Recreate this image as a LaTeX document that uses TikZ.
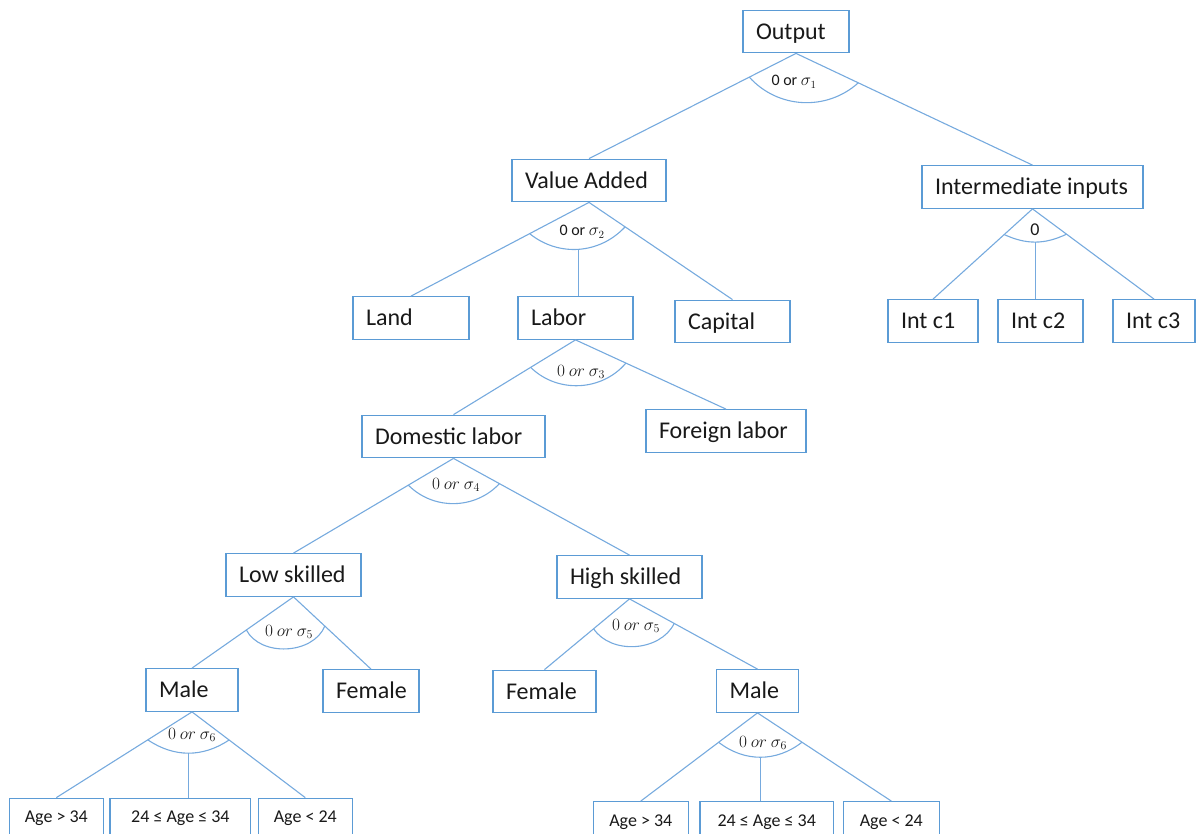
\documentclass[tikz,border=0pt]{standalone}
\usepackage{fontspec}
\setmainfont{Carlito}
\usetikzlibrary{calc}
\definecolor{boxblue}{RGB}{91,155,213}
\definecolor{lineblue}{RGB}{118,170,222}
\definecolor{txt}{RGB}{25,25,25}
\newcommand\myl[2]{\makebox[#1pt][l]{#2}}
\begin{document}
\begin{tikzpicture}[x=1pt,y=-1pt,
  box/.style={draw=boxblue, line width=1.3pt, fill=white, inner xsep=13pt, inner ysep=0pt,
    minimum height=42.5pt, text height=15.5pt, text depth=0pt,
    font=\fontsize{24pt}{28pt}\selectfont, text=txt},
  agebox/.style={draw=boxblue, line width=1.3pt, fill=white, inner xsep=0pt, inner ysep=0pt,
    minimum height=43pt, text height=11.6pt, text depth=5.8pt,
    font=\fontsize{18pt}{22pt}\selectfont, text=txt},
  conn/.style={draw=lineblue, line width=1.1pt},
  lbl/.style={font=\fontsize{16pt}{19pt}\selectfont, text=txt, inner sep=0pt},
  mlbl/.style={font=\fontsize{17pt}{20pt}\selectfont, text=txt, inner sep=0pt}]
\useasboundingbox (0,0) rectangle (1196,834);
\clip (0,0) rectangle (1196,834);

% ---- boxes
\node[box] (out) at (796,31.5) {\myl{80}{Output}};
\node[box] (va) at (589,180.5) {\myl{128}{Value Added}};
\node[box] (ii) at (1032.5,187) {\myl{195}{Intermediate inputs}};
\node[box] (c1) at (933,321) {\myl{64}{Int c1}};
\node[box] (c2) at (1040.5,321) {\myl{59}{Int c2}};
\node[box] (c3) at (1154,321) {\myl{56}{Int c3}};
\node[box] (land) at (411,318) {\myl{90}{Land}};
\node[box] (lab) at (575.5,318) {\myl{89}{Labor}};
\node[box] (cap) at (732.5,321.5) {\myl{89}{Capital}};
\node[box] (dom) at (453.5,436.5) {\myl{157}{Domestic labor}};
\node[box] (forl) at (726,431) {\myl{134}{Foreign labor}};
\node[box] (low) at (293.5,575) {\myl{109}{Low skilled}};
\node[box] (high) at (629.5,577) {\myl{119}{High skilled}};
\node[box] (m1) at (192,690) {\myl{66}{Male}};
\node[box] (f1) at (371,691) {\myl{70}{Female}};
\node[box] (f2) at (544.5,691.5) {\myl{77}{Female}};
\node[box] (m2) at (757.5,691) {\myl{56}{Male}};

\node[agebox, minimum width=94pt] (a1) at (56.3,819.8) {Age > 34};
\node[agebox, minimum width=140.7pt] (a2) at (180.4,819.8) {24 ≤ Age ≤ 34};
\node[agebox, minimum width=94pt] (a3) at (305.3,819.8) {Age < 24};
\node[agebox, minimum width=95pt] (a4) at (640.8,823.2) {Age > 34};
\node[agebox, minimum width=133.3pt] (a5) at (766.7,823.2) {24 ≤ Age ≤ 34};
\node[agebox, minimum width=96pt] (a6) at (891.3,823.2) {Age < 24};

% ---- connectors
\draw[conn] (out.south) -- (va.north);
\draw[conn] (out.south) -- (ii.north);
\draw[conn] ($(out.south)!52.4pt!(va.north)$) to[bend right=45] ($(out.south)!68.9pt!(ii.north)$);

\draw[conn] (va.south) -- (land.north);
\draw[conn] (va.south) -- (cap.north);
\draw[conn] ($(va.south)!67.1pt!(land.north)$) to[bend right=43] coordinate[pos=0.5] (vab) ($(va.south)!43.6pt!(cap.north)$);
\draw[conn] (vab) -- (vab |- lab.north);

\draw[conn] (ii.south) -- (c1.north);
\draw[conn] (ii.south) -- (c3.north);
\draw[conn] ($(ii.south)!38.2pt!(c1.north)$) to[bend right=25] coordinate[pos=0.5] (iib) ($(ii.south)!42.4pt!(c3.north)$);
\draw[conn] (iib) -- (iib |- c2.north);

\draw[conn] (lab.south) -- (dom.north);
\draw[conn] (lab.south) -- (forl.north);
\draw[conn] ($(lab.south)!52.6pt!(dom.north)$) to[bend right=47] ($(lab.south)!55.5pt!(forl.north)$);

\draw[conn] (dom.south) -- (low.north);
\draw[conn] (dom.south) -- (high.north);
\draw[conn] ($(dom.south)!52.5pt!(low.north)$) to[bend right=46] ($(dom.south)!52.4pt!(high.north)$);

\draw[conn] (low.south) -- (m1.north);
\draw[conn] (low.south) -- (f1.north);
\draw[conn] ($(low.south)!57.6pt!(m1.north)$) to[bend right=65] ($(low.south)!42.8pt!(f1.north)$);

\draw[conn] (high.south) -- (f2.north);
\draw[conn] (high.south) -- (m2.north);
\draw[conn] ($(high.south)!46.7pt!(f2.north)$) to[bend right=60] ($(high.south)!51pt!(m2.north)$);

\draw[conn] (m1.south) -- (a1.north);
\draw[conn] (m1.south) -- (a3.north);
\draw[conn] ($(m1.south)!52.3pt!(a1.north)$) to[bend right=34] coordinate[pos=0.5] (m1b) ($(m1.south)!46.5pt!(a3.north)$);
\draw[conn] (m1b) -- (m1b |- a2.north);

\draw[conn] (m2.south) -- (a4.north);
\draw[conn] (m2.south) -- (a6.north);
\draw[conn] ($(m2.south)!48.7pt!(a4.north)$) to[bend right=38] coordinate[pos=0.5] (m2b) ($(m2.south)!53.3pt!(a6.north)$);
\draw[conn] (m2b) -- (m2b |- a5.north);

% ---- elasticity labels
\node[lbl] (s1) at (794,82) {0 or $\sigma_1$};
\node[lbl] (s2) at (582,232) {0 or $\sigma_2$};
\node[mlbl] (s3) at (581,372) {$0\ or\ \sigma_3$};
\node[mlbl] (s4) at (456,485) {$0\ or\ \sigma_4$};
\node[mlbl] (s5a) at (289,632) {$0\ or\ \sigma_5$};
\node[mlbl] (s5b) at (636,626) {$0\ or\ \sigma_5$};
\node[mlbl] (s6a) at (192,735) {$0\ or\ \sigma_6$};
\node[mlbl] (s6b) at (763,743) {$0\ or\ \sigma_6$};
\node[lbl, font=\fontsize{18pt}{20pt}\selectfont] (z) at (1035,229.5) {0};
\end{tikzpicture}
\end{document}
